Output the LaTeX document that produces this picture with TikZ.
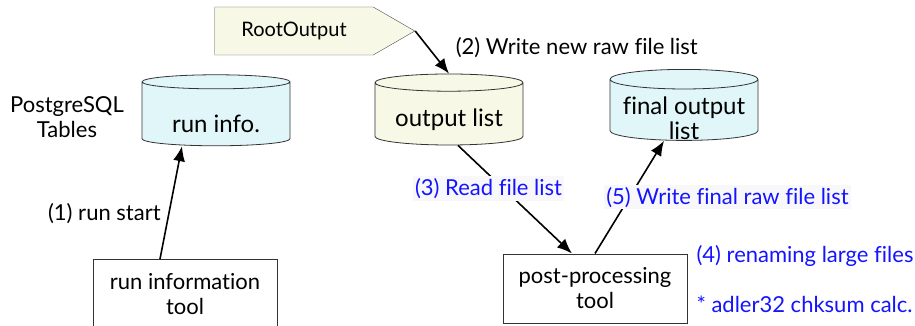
\documentclass[tikz,border=0pt]{standalone}
\usepackage{fontspec}
\setmainfont{Lato}[Ligatures=NoCommon]
\usetikzlibrary{shapes.geometric,shapes.symbols,arrows.meta,positioning}
\definecolor{dbcyan}{RGB}{224,246,249}
\definecolor{dbyellow}{RGB}{247,248,230}
\definecolor{labelbg}{RGB}{248,248,251}
\definecolor{stepblue}{RGB}{20,20,255}
% table text sits a little low in the cylinder
\newcommand\dbtext[2][-14pt]{\raisebox{#1}[0pt][0pt]{\begin{tabular}{@{}c@{}}#2\end{tabular}}}
\tikzset{
	dbbox/.style={cylinder, shape border rotate=90, aspect=0.16, draw=black!80, line width=0.8pt,
		inner sep=0pt, minimum width=148pt, minimum height=71pt, font=\fontsize{24}{24}\selectfont},
	toolbox/.style={draw=black!80, line width=1pt, minimum width=184pt, minimum height=69pt,
		align=center, font=\fontsize{22}{25}\selectfont},
	flow/.style={-{Latex[length=15pt,width=12pt]}, line width=1.6pt},
	txt/.style={font=\fontsize{22}{25}\selectfont},
	bluelabel/.style={txt, text=stepblue},
}
\begin{document}
\begin{tikzpicture}[x=1pt,y=-1pt]
	\useasboundingbox (0,0) rectangle (915,326);
	% tables
	\node[dbbox, fill=dbcyan] (runinfo) at (216,114) {\dbtext[-20pt]{run info.}};
	\node[dbbox, fill=dbyellow] (outlist) at (449,114) {\dbtext[-13pt]{output list}};
	\node[dbbox, fill=dbcyan] (finallist) at (684,110) {\dbtext[-18pt]{final output\\list}};
	\node[txt, align=center] (pgsql) at (67,117) {PostgreSQL\\Tables};
	\node[signal, signal to=east, signal pointer angle=60, draw=black!70, fill=dbyellow,
		minimum width=200pt, minimum height=48pt, font=\fontsize{20}{24}\selectfont] (root) at (294,31) {RootOutput};
	% tools
	\node[toolbox] (runtool) at (185,294) {run information\\tool};
	\node[toolbox] (posttool) at (595,288.5) {post-processing\\tool};
	\node[bluelabel, anchor=west] (rename) at (693,256) {(4) renaming large files};
	\node[bluelabel, anchor=west] (adler) at (693,304) {* adler32 chksum calc.};
	% flows
	\draw[flow] ([xshift=-25pt]runtool.north) -- node[txt, left=4pt, pos=0.4] {(1) run start} ([xshift=-34pt]runinfo.south);
	\draw[flow] (root.east) -- node[txt, right=23pt, pos=0.4] {(2) Write new raw file list} (outlist.north);
	\draw[flow] ([xshift=9pt]outlist.south) -- node[bluelabel, fill=labelbg, pos=0.4, xshift=-15pt, inner sep=2pt] {(3) Read file list} ([xshift=-23pt]posttool.north);
	\draw[flow] (posttool.north) -- node[bluelabel, fill=labelbg, pos=0.5, anchor=west, xshift=-26pt, inner sep=2pt] {(5) Write final raw file list} ([xshift=-20pt]finallist.south);
\end{tikzpicture}
\end{document}
